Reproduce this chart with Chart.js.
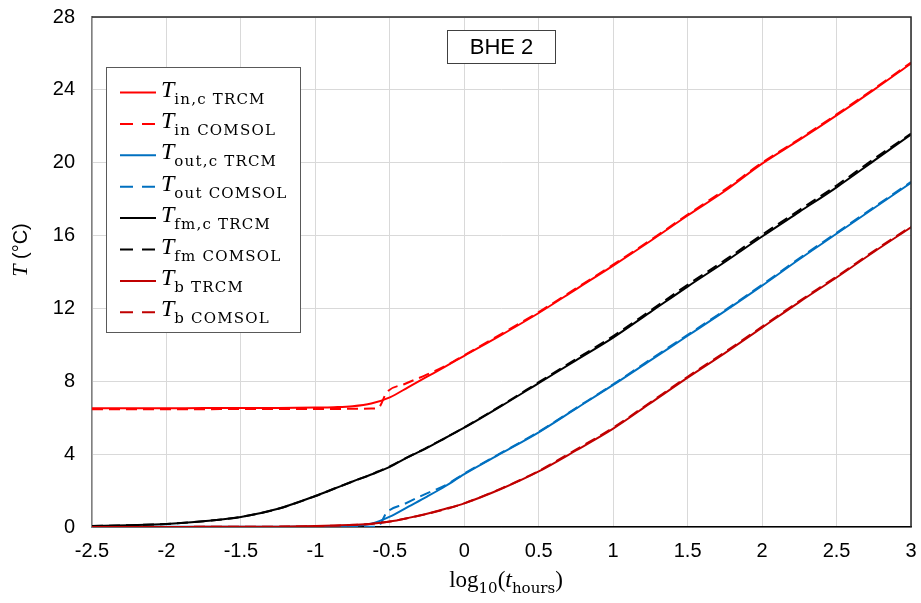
<!DOCTYPE html>
<html>
<head>
<meta charset="utf-8">
<script src="https://cdn.jsdelivr.net/npm/chart.js@4.4.0/dist/chart.umd.min.js"></script>
<style>
  html, body { margin: 0; padding: 0; background: #ffffff; }
  #wrap { width: 921px; height: 603px; position: relative; }
</style>
</head>
<body>
<div id="wrap"><canvas id="c" width="921" height="603"></canvas></div>
<script>
// log10(t in hours) sample positions for the thermal resistance-capacitance model
const trcmX = [-2.5, -2.25, -2, -1.75, -1.5, -1.25, -1, -0.875, -0.75, -0.625, -0.5, -0.375, -0.25, -0.125,
               0, 0.25, 0.5, 0.75, 1, 1.25, 1.5, 1.75, 2, 2.25, 2.5, 2.75, 3];
const tinTrcm  = [6.52, 6.52, 6.52, 6.53, 6.53, 6.54, 6.56, 6.58, 6.63, 6.78, 7.12, 7.68, 8.25, 8.82,
                  9.4, 10.55, 11.75, 13.05, 14.35, 15.7, 17.1, 18.45, 19.95, 21.25, 22.6, 24.0, 25.45];
const toutTrcm = [0.02, 0.02, 0.02, 0.02, 0.02, 0.02, 0.03, 0.04, 0.07, 0.18, 0.57, 1.12, 1.67, 2.25,
                  2.9, 4.05, 5.2, 6.5, 7.8, 9.15, 10.5, 11.85, 13.25, 14.7, 16.1, 17.5, 18.9];
const tfmTrcm  = [0.05, 0.1, 0.17, 0.32, 0.55, 1.0, 1.7, 2.1, 2.5, 2.88, 3.3, 3.85, 4.35, 4.9,
                  5.45, 6.65, 7.9, 9.15, 10.4, 11.8, 13.2, 14.55, 15.95, 17.3, 18.65, 20.1, 21.55];
const tbTrcm   = [0, 0, 0, 0.01, 0.01, 0.02, 0.05, 0.08, 0.12, 0.18, 0.3, 0.5, 0.73, 1.0,
                  1.3, 2.1, 3.05, 4.2, 5.4, 6.8, 8.2, 9.55, 10.95, 12.35, 13.7, 15.1, 16.45];

// log10(t in hours) sample positions for the COMSOL reference solution
const comsolX = [-2.5, -2.25, -2, -1.75, -1.5, -1.25, -1, -0.875, -0.75, -0.625, -0.58, -0.52, -0.4, -0.27,
                 -0.125, 0, 0.25, 0.5, 0.75, 1, 1.25, 1.5, 1.75, 2, 2.25, 2.5, 2.75, 3];
const tinComsol  = [6.47, 6.47, 6.47, 6.47, 6.48, 6.48, 6.48, 6.48, 6.49, 6.5, 6.52, 7.4, 7.85, 8.3,
                    8.85, 9.43, 10.6, 11.8, 13.1, 14.4, 15.75, 17.15, 18.52, 20.0, 21.3, 22.65, 24.05, 25.5];
const toutComsol = [0, 0, 0, 0, 0, 0, 0, 0, 0, 0.01, 0.03, 0.8, 1.27, 1.78,
                    2.3, 2.93, 4.08, 5.23, 6.53, 7.83, 9.2, 10.55, 11.9, 13.3, 14.75, 16.15, 17.55, 18.95];
const tfmComsol  = [0.05, 0.1, 0.17, 0.32, 0.55, 1.0, 1.7, 2.1, 2.5, 2.88, 3.05, 3.25, 3.75, 4.28,
                    4.9, 5.47, 6.68, 7.95, 9.22, 10.48, 11.88, 13.3, 14.65, 16.05, 17.4, 18.75, 20.2, 21.6];
const tbComsol   = [0, 0, 0, 0.01, 0.01, 0.02, 0.04, 0.07, 0.11, 0.17, 0.22, 0.28, 0.45, 0.68,
                    0.98, 1.3, 2.12, 3.08, 4.25, 5.45, 6.85, 8.25, 9.6, 11.0, 12.4, 13.75, 15.15, 16.5];

// axis ticks
const xTickValues = [-2.5, -2, -1.5, -1, -0.5, 0, 0.5, 1, 1.5, 2, 2.5, 3];
const yTickValues = [0, 4, 8, 12, 16, 20, 24, 28];

// legend names: main symbol + subscript
const seriesMain = ['T', 'T', 'T', 'T', 'T', 'T', 'T', 'T'];
const seriesSub  = ['in,c TRCM', 'in COMSOL', 'out,c TRCM', 'out COMSOL',
                    'fm,c TRCM', 'fm COMSOL', 'b TRCM', 'b COMSOL'];

const panelTitle = 'BHE 2';

const RED = '#FF0000', BLUE = '#0070C0', BLACK = '#000000', DARKRED = '#C00000';
const colors = [RED, RED, BLUE, BLUE, BLACK, BLACK, DARKRED, DARKRED];
const dashed = [false, true, false, true, false, true, false, true];
const seriesX = [trcmX, comsolX, trcmX, comsolX, trcmX, comsolX, trcmX, comsolX];
const seriesY = [tinTrcm, tinComsol, toutTrcm, toutComsol, tfmTrcm, tfmComsol, tbTrcm, tbComsol];

const datasets = seriesY.map((ys, i) => ({
  label: seriesMain[i] + ' ' + seriesSub[i],
  data: ys.map((y, k) => ({ x: seriesX[i][k], y })),
  borderColor: colors[i],
  backgroundColor: colors[i],
  borderWidth: 2,
  borderDash: dashed[i] ? [11, 6] : [],
  pointRadius: 0,
  fill: false,
  cubicInterpolationMode: 'monotone',
  order: 8 - i
}));

// draws a symbol followed by a lowered subscript; returns the end x
function drawSubscripted(ctx, x, y, parts) {
  let cx = x;
  for (const p of parts) {
    ctx.font = p.font;
    ctx.letterSpacing = p.spacing || '0px';
    ctx.fillText(p.text, cx, y + (p.dy || 0));
    cx += ctx.measureText(p.text).width;
  }
  ctx.letterSpacing = '0px';
  return cx;
}
function measureParts(ctx, parts) {
  let w = 0;
  for (const p of parts) {
    ctx.font = p.font;
    ctx.letterSpacing = p.spacing || '0px';
    w += ctx.measureText(p.text).width;
  }
  ctx.letterSpacing = '0px';
  return w;
}

const MAIN_FONT = 'italic 24px "Liberation Serif"';
const SUB_FONT = '15px "DejaVu Serif"';

const decorations = {
  id: 'decorations',
  afterDraw(chart) {
    const ctx = chart.ctx;
    const a = chart.chartArea;
    ctx.save();

    // top and right frame of the plot area
    ctx.strokeStyle = '#262626';
    ctx.lineWidth = 1.5;
    ctx.setLineDash([]);
    ctx.beginPath();
    ctx.moveTo(a.left, a.top);
    ctx.lineTo(a.right, a.top);
    ctx.lineTo(a.right, a.bottom);
    ctx.stroke();

    // panel label box
    const bx = 447, by = 30, bw = 108, bh = 33;
    ctx.fillStyle = '#ffffff';
    ctx.fillRect(bx, by, bw, bh);
    ctx.strokeStyle = '#404040';
    ctx.lineWidth = 1;
    ctx.strokeRect(bx + 0.5, by + 0.5, bw, bh);
    ctx.fillStyle = '#000000';
    ctx.font = '22px "Liberation Sans"';
    ctx.textAlign = 'center';
    ctx.textBaseline = 'middle';
    ctx.fillText(panelTitle, bx + bw / 2 + 0.5, by + bh / 2 + 1.5);

    // legend
    const lx = 106, ly = 67, lw = 194, lh = 265;
    ctx.fillStyle = '#ffffff';
    ctx.fillRect(lx, ly, lw, lh);
    ctx.strokeStyle = '#595959';
    ctx.strokeRect(lx + 0.5, ly + 0.5, lw, lh);
    ctx.textAlign = 'left';
    ctx.textBaseline = 'alphabetic';
    for (let i = 0; i < seriesSub.length; i++) {
      const ry = 92.5 + i * 31.4;
      ctx.strokeStyle = colors[i];
      ctx.lineWidth = 2;
      ctx.setLineDash(dashed[i] ? [13, 9] : []);
      ctx.beginPath();
      ctx.moveTo(120, ry);
      ctx.lineTo(156, ry);
      ctx.stroke();
      ctx.setLineDash([]);
      ctx.fillStyle = '#000000';
      drawSubscripted(ctx, 161, ry + 4, [
        { text: seriesMain[i], font: MAIN_FONT },
        { text: seriesSub[i], font: SUB_FONT, dy: 7, spacing: '1.2px' }
      ]);
    }

    // x axis title: log10(t_hours)
    const xParts = [
      { text: 'log', font: '23px "Liberation Serif"' },
      { text: '10', font: SUB_FONT, dy: 6 },
      { text: '(', font: '23px "Liberation Serif"' },
      { text: 't', font: MAIN_FONT },
      { text: 'hours', font: SUB_FONT, dy: 6 },
      { text: ')', font: '23px "Liberation Serif"' }
    ];
    const xw = measureParts(ctx, xParts);
    ctx.fillStyle = '#000000';
    drawSubscripted(ctx, 506 - xw / 2, 587, xParts);

    // y axis title: T (°C)
    ctx.save();
    ctx.translate(27, 250);
    ctx.rotate(-Math.PI / 2);
    const yParts = [
      { text: 'T', font: 'italic 22px "Liberation Serif"' },
      { text: ' (°C)', font: '20px "Liberation Sans"' }
    ];
    const yw = measureParts(ctx, yParts);
    drawSubscripted(ctx, -yw / 2, 0, yParts);
    ctx.restore();

    ctx.restore();
  }
};

new Chart(document.getElementById('c'), {
  type: 'line',
  data: { datasets },
  options: {
    responsive: false,
    animation: false,
    devicePixelRatio: 1,
    layout: { padding: { left: 0, top: 17, right: 10, bottom: 0 } },
    plugins: { legend: { display: false }, tooltip: { enabled: false } },
    scales: {
      x: {
        type: 'linear',
        min: -2.5,
        max: 3,
        afterBuildTicks: s => { s.ticks = xTickValues.map(v => ({ value: v })); },
        afterFit: s => { s.height = 76; s.paddingLeft = 0; s.paddingRight = 0; },
        grid: { color: '#D9D9D9', lineWidth: 1, drawTicks: false },
        border: { color: '#000000', width: 1.5 },
        ticks: {
          color: '#000000',
          font: { family: 'Liberation Sans', size: 20 },
          padding: 12,
          maxRotation: 0,
          autoSkip: false,
          callback: v => String(Math.round(v * 10) / 10)
        }
      },
      y: {
        type: 'linear',
        min: 0,
        max: 28,
        afterBuildTicks: s => { s.ticks = yTickValues.map(v => ({ value: v })); },
        afterFit: s => { s.width = 92; s.paddingTop = 0; s.paddingBottom = 0; },
        grid: { color: '#D9D9D9', lineWidth: 1, drawTicks: false },
        border: { color: '#808080', width: 1.5 },
        ticks: {
          color: '#000000',
          font: { family: 'Liberation Sans', size: 20 },
          padding: 17,
          autoSkip: false,
          callback: v => String(v)
        }
      }
    }
  },
  plugins: [decorations]
});
</script>
</body>
</html>
